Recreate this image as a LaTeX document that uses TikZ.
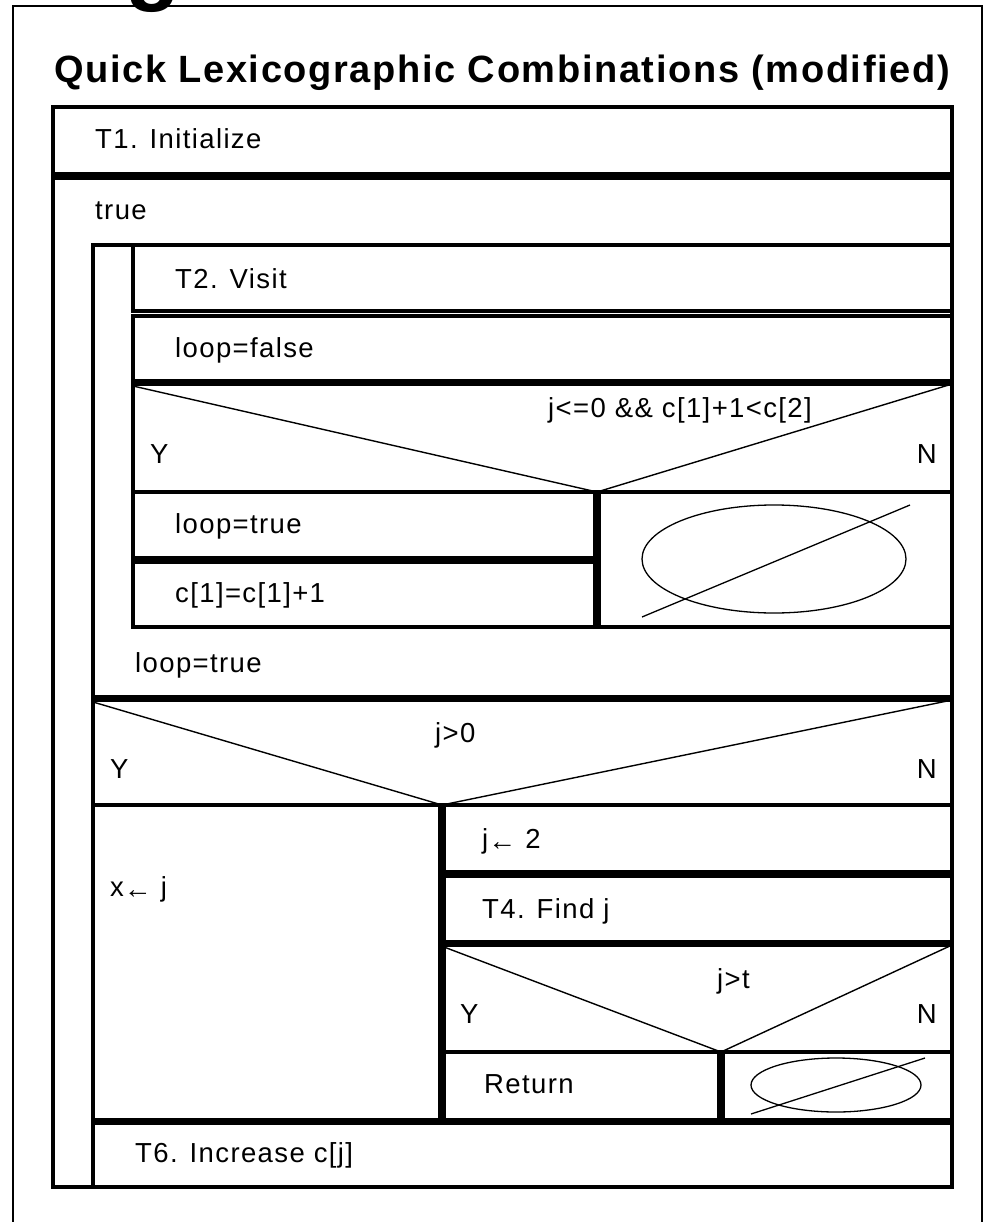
\documentclass[tikz,border=0pt]{standalone}
\usepackage{fontspec}
\setmainfont{Liberation Sans}
\newfontfamily\nsfont[LetterSpace=5]{Liberation Sans}
\newfontfamily\nstitle[LetterSpace=4.3]{Liberation Sans}
\newcommand{\asg}{{\fontsize{28}{28}\selectfont\raisebox{-2pt}{←}}}

\begin{document}
\begin{tikzpicture}[x=1pt,y=-1pt,
  frm/.style={line width=2.8pt},
  cell/.style={draw,line width=3.2pt},
  cut/.style={line width=1.4pt},
  oval/.style={line width=1.3pt},
  txt/.style={anchor=base west,inner sep=0pt,font=\nsfont\fontsize{27.5}{30}\selectfont},
  rtxt/.style={txt,anchor=base east}]
\useasboundingbox (0,0) rectangle (994,1222);

% outer frame and heading
\draw[frm] (13,1240) -- (13,6) -- (982,6) -- (982,1240);
\node[anchor=base west,inner sep=0pt,font=\nstitle\bfseries\fontsize{90}{90}\selectfont] (gtail) at (125,-6) {g};
\node[anchor=base west,inner sep=0pt,font=\nstitle\bfseries\fontsize{38}{40}\selectfont] (title) at (54,83) {Quick Lexicographic Combinations (modified)};

% T1 and outer loop
\draw[cell] (53,107) rectangle (952,174);
\node[txt] (t1) at (95,149) {T1. Initialize};
\draw[cell] (53,178) rectangle (952,1187);
\node[txt] (loopcond) at (95,220) {true};

% inner repeat loop
\draw[cell] (93,245) rectangle (952,697);
\draw[cell] (133,245) rectangle (952,311);
\node[txt] (t2) at (175,288) {T2. Visit};
\draw[cell] (133,316) rectangle (952,381);
\node[txt] (lpf) at (175,357) {loop=false};
\draw[cell] (133,384) rectangle (952,492);
\coordinate (tipa) at (597,492);
\draw[cut] (133,386) -- (tipa) -- (952,384);
\node[txt] (conda) at (548,417) {j<=0 \&\& c[1]+1<c[2]};
\node[txt] (ya) at (150,463) {Y};
\node[rtxt] (na) at (937,463) {N};
\draw[cell] (133,492) rectangle (595,558);
\node[txt] (lpt) at (175,533) {loop=true};
\draw[cell] (133,562) rectangle (595,627);
\node[txt] (inc) at (175,602) {c[1]=c[1]+1};
\draw[cell] (599,492) rectangle (952,627);
\draw[oval] (774,559) ellipse [x radius=132,y radius=54];
\draw[oval] (642,617) -- (910,505);
\node[txt] (until) at (135,672) {loop=true};

% j>0
\draw[cell] (93,700) rectangle (952,805);
\coordinate (tipb) at (442,805);
\draw[cut] (93,702) -- (tipb) -- (952,700);
\node[txt] (condb) at (435,742) {j>0};
\node[txt] (yb) at (110,778) {Y};
\node[rtxt] (nb) at (937,778) {N};
\draw[cell] (93,805) rectangle (440,1120);
\node[txt] (xj) at (110,896) {x\asg\ j};
\draw[cell] (444,805) rectangle (952,872);
\node[txt] (j2) at (482,848) {j\asg\ 2};
\draw[cell] (444,876) rectangle (952,942);
\node[txt] (t4) at (482,918) {T4. Find j};

% j>t
\draw[cell] (444,945) rectangle (952,1052);
\coordinate (tipc) at (721,1052);
\draw[cut] (444,947) -- (tipc) -- (952,945);
\node[txt] (condc) at (717,988) {j>t};
\node[txt] (yc) at (460,1023) {Y};
\node[rtxt] (nc) at (937,1023) {N};
\draw[cell] (444,1052) rectangle (719,1120);
\node[txt] (ret) at (484,1093) {Return};
\draw[cell] (723,1052) rectangle (952,1120);
\draw[oval] (836,1085) ellipse [x radius=85,y radius=27];
\draw[oval] (751,1114) -- (925,1058);

% T6
\draw[cell] (93,1123) rectangle (952,1187);
\node[txt] (t6) at (135,1162) {T6. Increase c[j]};
\end{tikzpicture}
\end{document}
